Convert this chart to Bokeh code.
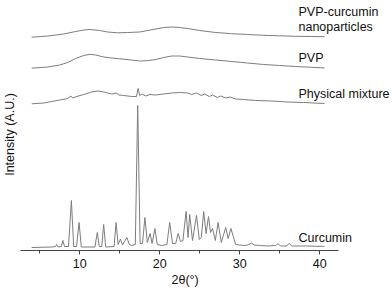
import math
from bokeh.plotting import figure
from bokeh.models import Range1d, FixedTicker, Label, Title
from bokeh.embed import file_html
from bokeh.resources import INLINE

# ---- data (2theta in degrees, stacked intensity in arbitrary units) ----
curcumin_x = [4.0, 6.5, 7.0, 7.1, 7.3, 7.7, 7.9, 8.1, 8.6, 8.96, 9.25, 9.6, 9.92, 10.2,
              11.9, 12.2, 12.45, 12.75, 13.0, 13.25, 14.3, 14.55, 14.8, 15.1, 15.35,
              15.9, 16.2, 16.5, 16.95, 17.25, 17.55, 17.85, 18.15, 18.45, 18.8, 19.05,
              19.4, 19.7, 20.2, 20.9, 21.25, 21.6, 22.0, 22.3, 22.6, 22.9, 23.3, 23.55,
              23.75, 24.1, 24.6, 24.95, 25.2, 25.5, 25.8, 26.1, 26.35, 26.6, 26.95, 27.3,
              27.7, 28.25, 28.55, 28.9, 29.2, 29.5, 30.0, 30.5, 31.0, 31.5, 31.8, 32.5,
              33.5, 34.5, 34.8, 35.1, 35.8, 36.2, 36.5, 37.5, 38.5, 39.5, 40.6]
curcumin_y = [3.0, 3.5, 4.0, 6.0, 3.5, 4.0, 10.0, 4.0, 4.0, 50.0, 4.0, 4.0, 28.0, 3.5,
              3.5, 18.0, 4.0, 4.0, 26.0, 3.5, 4.0, 28.0, 6.0, 11.5, 5.5,
              13.0, 6.0, 5.0, 6.0, 145.0, 7.0, 7.0, 33.0, 8.0, 17.0, 7.0,
              22.0, 6.0, 5.0, 6.0, 28.0, 7.0, 7.0, 17.0, 9.0, 10.0, 39.0, 13.0,
              36.0, 10.0, 35.0, 11.0, 13.0, 39.0, 17.0, 34.0, 18.0, 22.0, 10.0, 28.0,
              8.0, 23.0, 12.0, 22.0, 14.0, 6.0, 5.5, 5.0, 5.5, 7.5, 5.5, 5.0,
              4.5, 5.0, 7.0, 4.5, 4.5, 7.0, 4.5, 4.5, 4.5, 4.2, 4.2]

mixture_x = [4.0, 5.5, 6.5, 7.5, 8.5, 8.9, 9.1, 9.6, 10.5, 11.5, 12.3, 13.0, 14.0, 14.6,
             14.9, 15.5, 16.5, 17.1, 17.3, 17.5, 17.8, 18.2, 18.8, 19.5, 20.5, 21.5,
             22.5, 23.5, 24.0, 24.6, 25.2, 25.6, 26.2, 26.6, 27.2, 27.6, 28.3, 28.8,
             29.5, 30.5, 32.0, 34.0, 36.0, 38.0, 40.6]
mixture_y = [146.7, 147.5, 149.0, 150.5, 152.0, 154.5, 152.5, 154.0, 156.0, 158.5, 159.5,
             158.5, 156.5, 157.5, 155.5, 155.0, 154.0, 154.0, 162.0, 155.0, 156.5, 154.5,
             156.0, 155.5, 156.5, 157.5, 158.0, 157.5, 156.0, 157.5, 155.0, 156.5, 154.0,
             155.5, 153.0, 154.5, 152.5, 153.5, 151.5, 151.0, 150.0, 149.5, 148.5, 148.0,
             147.0]

pvp_x = [4.0, 6.0, 7.5, 8.5, 9.5, 10.5, 11.3, 12.0, 13.0, 14.0, 15.0, 16.5, 17.5, 18.5,
         19.5, 20.5, 21.5, 22.5, 23.5, 25.0, 27.0, 29.0, 31.0, 33.0, 35.0, 37.0, 39.0, 40.6]
pvp_y = [182.3, 183.5, 185.5, 188.0, 192.0, 195.0, 196.2, 195.5, 193.5, 192.5, 191.7,
         190.5, 189.5, 189.8, 191.0, 193.0, 194.5, 194.5, 193.5, 192.0, 190.5, 189.0,
         187.5, 186.0, 185.0, 184.0, 183.2, 182.5]

nano_x = [4.0, 6.0, 8.0, 9.5, 10.5, 11.3, 12.5, 13.5, 14.7, 16.0, 17.5, 18.5, 19.5, 20.5,
          21.5, 22.5, 23.5, 25.0, 27.0, 29.0, 31.0, 33.0, 35.0, 37.0, 39.0, 40.6]
nano_y = [213.3, 214.5, 216.5, 219.0, 220.5, 221.0, 220.0, 218.5, 217.7, 218.0, 218.5,
          220.0, 221.5, 223.0, 223.5, 223.0, 222.0, 220.0, 218.0, 216.8, 216.0, 215.2,
          214.7, 214.2, 214.0, 213.8]

series_labels = ["PVP-curcumin", "nanoparticles", "PVP", "Physical mixture", "Curcumin"]
label_y = [239.0, 223.5, 193.0, 156.7, 12.3]

x_ticks = [10, 20, 30, 40]
x_minor = [5, 15, 25, 35]

FONT = "Liberation Sans"
LINE = "#7d7d7d"

p = figure(width=390, height=290, output_backend="svg", toolbar_location=None,
           x_range=Range1d(0.1, 48.85), y_range=Range1d(0, 250),
           y_axis_location=None,
           min_border_left=0, min_border_right=0, min_border_top=0, min_border_bottom=40)
p.outline_line_color = None
p.grid.visible = False
p.background_fill_color = "white"
p.border_fill_color = "white"

for xs, ys in [(curcumin_x, curcumin_y), (mixture_x, mixture_y), (pvp_x, pvp_y), (nano_x, nano_y)]:
    p.line(xs, ys, line_color=LINE, line_width=1)

ax = p.xaxis[0]
ax.bounds = (2.6, 42.4)
ax.ticker = FixedTicker(ticks=x_ticks, minor_ticks=x_minor)
ax.axis_line_color = "#444444"
ax.major_tick_line_color = "#444444"
ax.minor_tick_line_color = "#444444"
ax.major_tick_out = 4
ax.major_tick_in = 0
ax.minor_tick_out = 3
ax.minor_tick_in = 0
ax.major_label_text_font = FONT
ax.major_label_text_font_size = "12.5px"
ax.major_label_text_color = "#111111"
ax.major_label_standoff = 4

# x-axis title, placed as a title below the axis
p.add_layout(Title(text="2\u03b8(\u00b0)", align="left", offset=171, standoff=0,
                   text_font=FONT, text_font_size="12.5px", text_font_style="normal",
                   text_color="#111111"), "below")

# y-axis title
p.add_layout(Label(x=2, y=116, x_units="screen", y_units="data", text="Intensity (A.U.)",
                   angle=math.pi / 2, text_align="center", text_baseline="top",
                   text_font=FONT, text_font_size="12.5px", text_color="#111111"))

for t, yv in zip(series_labels, label_y):
    p.add_layout(Label(x=37.35, y=yv, text=t, text_align="left", text_baseline="alphabetic",
                       text_font=FONT, text_font_size="12.5px", text_color="#111111"))

open("out.html", "w").write(file_html(p, INLINE))
